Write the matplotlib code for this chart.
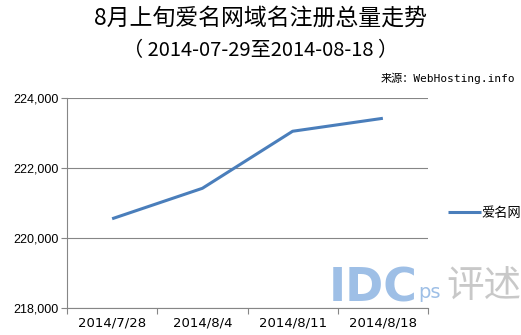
import matplotlib
matplotlib.use("Agg")
import numpy as np
from matplotlib import pyplot as plt

plt.rcParams['font.family'] = ['Noto Sans CJK SC', 'DejaVu Sans']

# data
dates = ['2014/7/28', '2014/8/4', '2014/8/11', '2014/8/18']
totals = [220550, 221420, 223050, 223420]
series_name = '爱名网'
y_ticks = [218000, 220000, 222000, 224000]

fig = plt.figure(figsize=(5.21, 3.35), dpi=100)
ax = fig.add_axes([67/521, 1 - 308/335, (428-67)/521, (308-98)/335])

x = np.arange(len(dates))
ax.plot(x, totals, color='#4A7EBB', lw=2.2, solid_capstyle='butt', label=series_name, zorder=3)

ax.set_xlim(-0.5, len(dates) - 0.5)
ax.set_ylim(218000, 224000)
ax.set_yticks(y_ticks)
ax.set_yticklabels([f'{v:,}' for v in y_ticks], fontsize=9, family=['Liberation Sans'])
ax.yaxis.grid(True, color='#868686', lw=0.8)
ax.set_axisbelow(True)

# category ticks sit between the labels
ax.set_xticks(np.arange(len(dates) + 1) - 0.5)
ax.set_xticklabels([])
ax.set_xticks(x, minor=True)
ax.set_xticklabels(dates, minor=True, fontsize=9.5, family=['DejaVu Sans'])
ax.tick_params(axis='x', which='minor', length=0, pad=6)
ax.tick_params(axis='x', which='major', length=4, color='#868686')
ax.tick_params(axis='y', length=4, color='#868686', pad=2)

for s in ['top', 'right']:
    ax.spines[s].set_visible(False)
for s in ['left', 'bottom']:
    ax.spines[s].set_color('#868686')
    ax.spines[s].set_linewidth(0.8)

fig.legend(loc='center left', bbox_to_anchor=(441/521, 1 - 213/335), frameon=False,
           fontsize=9.5, handlelength=2.5, handletextpad=0.1, borderpad=0)

fig.text(0.5, 1 - 18/335, '8月上旬爱名网域名注册总量走势', ha='center', va='center', fontsize=16.5)
fig.text(0.5, 1 - 51/335, '（ 2014-07-29至2014-08-18 ）', ha='center', va='center', fontsize=14.5)
fig.text(515/521, 1 - 78/335, '来源：WebHosting.info', ha='right', va='center', fontsize=8,
         family=['DejaVu Sans Mono', 'Noto Sans CJK SC'])

# watermark
fig.text(329/521, 1 - 289/335, 'IDC', ha='left', va='center', fontsize=33, color='#8DB4E2',
         alpha=0.85, weight='bold', family=['DejaVu Sans'])
fig.text(418/521, 1 - 292/335, 'ps', ha='left', va='center', fontsize=14, color='#8DB4E2',
         alpha=0.85, family=['DejaVu Sans'])
fig.text(446/521, 1 - 287/335, '评述', ha='left', va='center', fontsize=27, color='#BBBBBB', alpha=0.8)

fig.savefig('out.png', dpi=100)
